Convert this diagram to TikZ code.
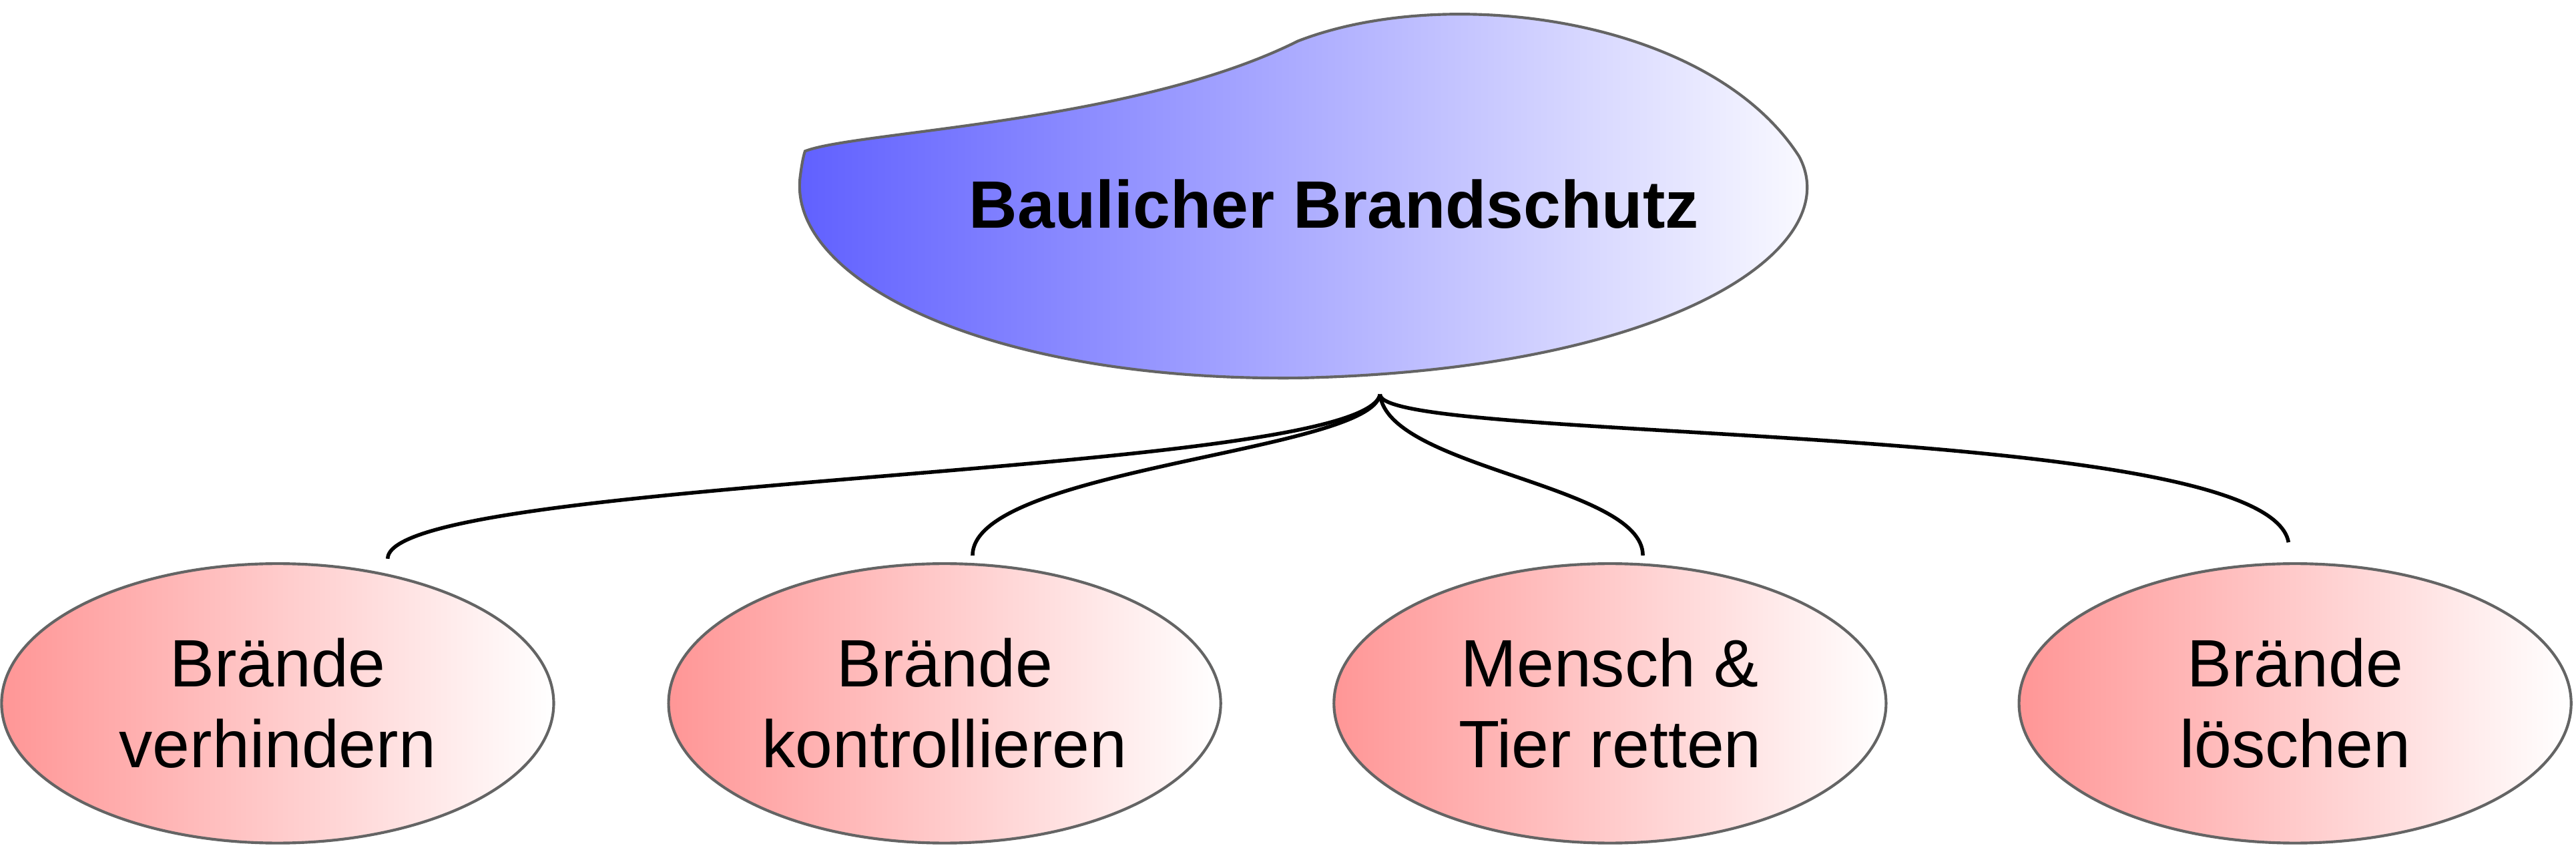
\documentclass[tikz,border=0pt]{standalone}
\usepackage{fontspec}
\setmainfont{Liberation Sans}
\usetikzlibrary{shapes.geometric}
\definecolor{bl}{RGB}{95,95,255}
\definecolor{pk}{RGB}{255,150,150}
\definecolor{edge}{RGB}{100,100,100}
\tikzset{
  leaf/.style={ellipse,draw=edge,line width=1.2pt,minimum width=336\pgfkeysvalueof{/tikz/x unit},left color=pk,right color=white,
    minimum width=8.4cm,minimum height=4.25cm,align=center,font=\fontsize{29}{35}\selectfont},
  conn/.style={line width=1.6pt,black}
}
\begin{document}
\begin{tikzpicture}[x=0.025cm,y=-0.025cm]
\useasboundingbox (0,0) rectangle (1568,516);
% blob
\draw[edge,line width=1.2pt,left color=bl,right color=white]
 (490,92) .. controls (520,80) and (690,75) .. (790,25)
 .. controls (880,-10) and (1040,10) .. (1095,95)
 .. controls (1125,150) and (1020,225) .. (790,230)
 .. controls (600,232) and (480,170) .. (487,108)
 .. controls (488,100) and (489,95) .. (490,92) -- cycle;
\node[font=\bfseries\fontsize{29}{35}\selectfont] (t) at (812,124) {Baulicher Brandschutz};
\coordinate (apex) at (840,240);
\node[leaf] (a) at (169,428) {Brände\\verhindern};
\node[leaf] (b) at (575,428) {Brände\\kontrollieren};
\node[leaf] (c) at (980,428) {Mensch \&\\Tier retten};
\node[leaf] (d) at (1397,428) {Brände\\löschen};
\coordinate (pa) at (236,340);
\coordinate (pb) at (592,338);
\coordinate (pc) at (1000,338);
\coordinate (pd) at (1393,330);
\draw[conn] (pa) .. controls (236,290) and (830,290) .. (apex);
\draw[conn] (pb) .. controls (592,285) and (835,275) .. (apex);
\draw[conn] (pc) .. controls (1000,295) and (845,285) .. (apex);
\draw[conn] (pd) .. controls (1380,255) and (840,270) .. (apex);
\end{tikzpicture}
\end{document}
